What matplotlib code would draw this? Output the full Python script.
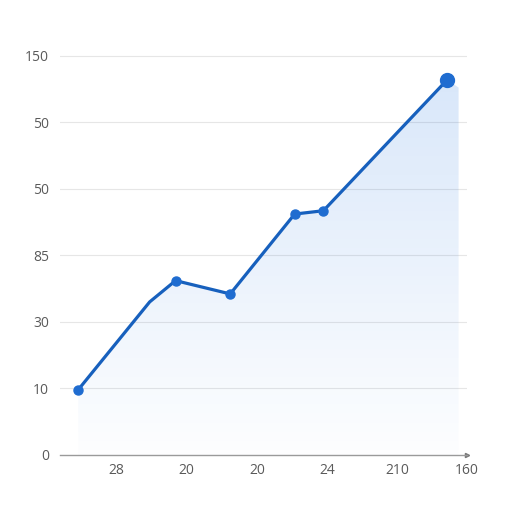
import numpy as np
import matplotlib
matplotlib.use('Agg')
import matplotlib.pyplot as plt
from matplotlib.patches import Polygon

# Data (positions in tick units)
x_vals = [-0.55, 0.47, 0.84, 1.62, 2.54, 2.95, 4.72]
y_vals = [0.98, 2.30, 2.62, 2.42, 3.62, 3.67, 5.64]
marked = [0, 2, 3, 4, 5]
fill_end_x = 4.88
fill_end_y = 5.52

x_ticks = [0, 1, 2, 3, 4, 5]
x_labels = ['28', '20', '20', '24', '210', '160']
y_ticks = [0, 1, 2, 3, 4, 5, 6]
y_labels = ['0', '10', '30', '85', '50', '50', '150']

line_color = '#1760bd'
text_color = '#5a5a5a'

plt.rcParams['font.family'] = ['Open Sans', 'DejaVu Sans']

fig = plt.figure(figsize=(5.12, 5.12), dpi=100)
ax = fig.add_axes([60 / 512, 57 / 512, 407 / 512, 416 / 512])
ax.set_xlim(-0.81, 4.97)
ax.set_ylim(0, 6.25)

# gradient fill under the line
verts = ([(x_vals[0], 0)] + list(zip(x_vals, y_vals))
         + [(fill_end_x, fill_end_y), (fill_end_x, 0)])
poly = Polygon(verts, closed=True, facecolor='none', edgecolor='none')
ax.add_patch(poly)
grad = np.linspace(0, 1, 256).reshape(-1, 1)
rgba = np.zeros((256, 1, 4))
rgba[..., 0] = 0.12
rgba[..., 1] = 0.45
rgba[..., 2] = 0.88
rgba[..., 3] = 0.01 + 0.16 * grad
img = ax.imshow(rgba, extent=[x_vals[0], fill_end_x, 0, max(y_vals)],
                origin='lower', aspect='auto', zorder=1, interpolation='bilinear')
img.set_clip_path(poly)

ax.plot(x_vals, y_vals, color=line_color, lw=2.3, zorder=3,
        solid_capstyle='round', solid_joinstyle='round')
ax.plot([x_vals[i] for i in marked], [y_vals[i] for i in marked], 'o',
        color='#1f6cd0', ms=6.5, zorder=4)
ax.plot(x_vals[-1], y_vals[-1], 'o', color='#1f6cd0', ms=10, zorder=4)

# grid and axes
for t in y_ticks[1:]:
    ax.axhline(t, color='#e6e6e6', lw=0.8, zorder=0)
for s in ['top', 'right', 'left']:
    ax.spines[s].set_visible(False)
ax.spines['bottom'].set_color('#9a9a9a')
ax.spines['bottom'].set_linewidth(1.0)
ax.plot(1, 0, marker='>', color='#777777', ms=3, transform=ax.transAxes, clip_on=False)

ax.set_xticks(x_ticks)
ax.set_xticklabels(x_labels)
ax.set_yticks(y_ticks)
ax.set_yticklabels(y_labels)
ax.tick_params(axis='both', length=0, labelsize=10, labelcolor=text_color)
ax.tick_params(axis='y', pad=8)
ax.tick_params(axis='x', pad=6)
ax.set_facecolor('white')

fig.savefig('out.png', dpi=100, facecolor='white')
